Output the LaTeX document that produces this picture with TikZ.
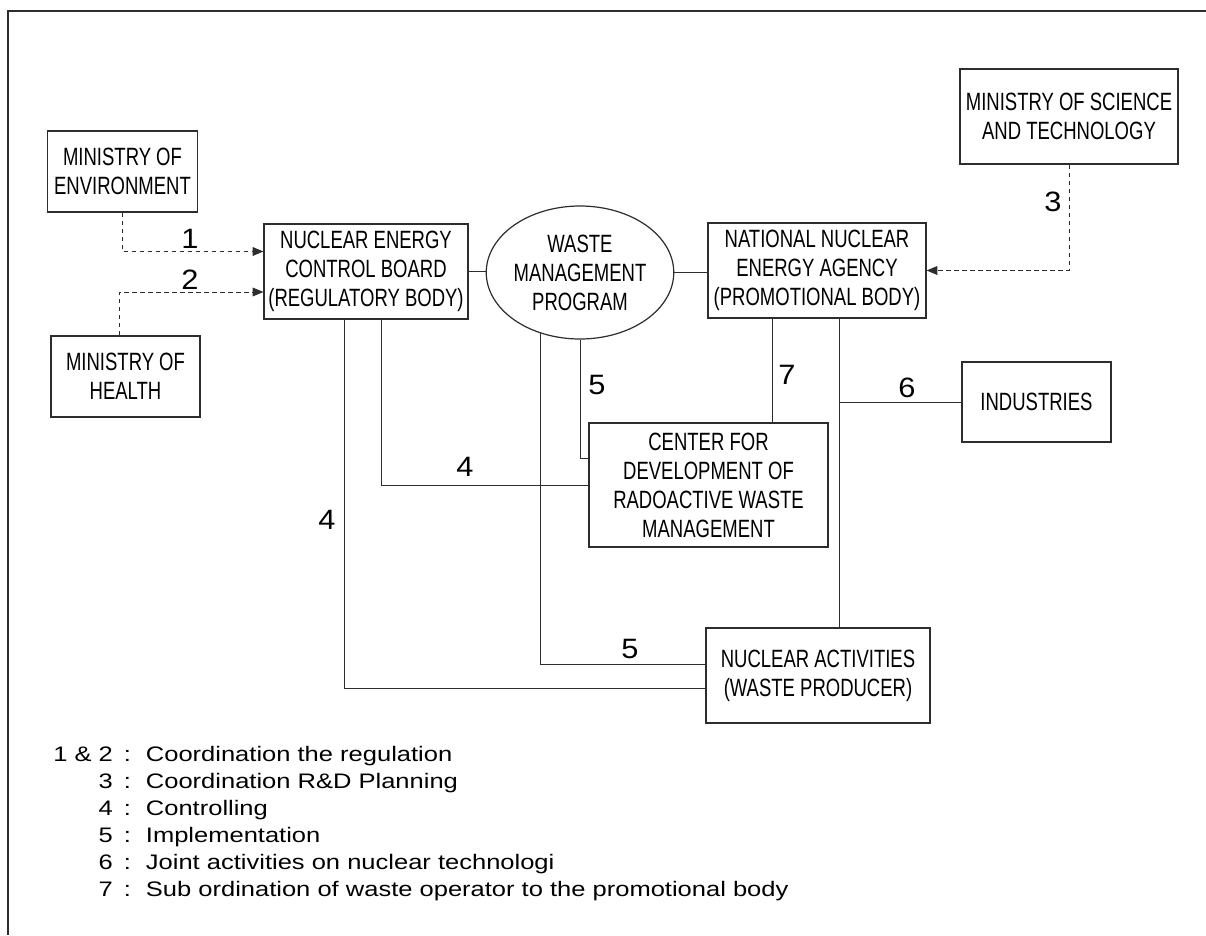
\documentclass[tikz,border=0pt]{standalone}
\usepackage{fontspec}
\setmainfont{Liberation Sans}
\newfontfamily\boxfont[FakeStretch=0.74]{Liberation Sans}
\newfontfamily\legfont[FakeStretch=1.215]{Liberation Sans}
\newfontfamily\labfont[FakeStretch=1.1]{Liberation Sans}
\usetikzlibrary{arrows.meta,calc,shapes.geometric}
\definecolor{linegray}{RGB}{45,45,45}
\begin{document}
\begin{tikzpicture}[x=0.75pt,y=-0.75pt,
  box/.style={draw=linegray, line width=0.9pt, rectangle, inner sep=0pt, align=center, text=black,
    font={\boxfont\fontsize{18.75}{21.75}\selectfont}},
  oval/.style={box, ellipse},
  conn/.style={draw=linegray, line width=0.75pt},
  dasharrow/.style={conn, dash pattern=on 3.5pt off 2.5pt, -{Triangle[length=8pt,width=6.5pt]}},
  lab/.style={inner sep=0pt, text=black, font={\labfont\fontsize{21}{25}\selectfont}},
  legendtext/.style={inner sep=0pt, text=black, align=left, font={\legfont\fontsize{15.75}{20.25}\selectfont}}
]
\useasboundingbox (0,0) rectangle (1206,935);
\fill[white] (0,0) rectangle (1206,935);
% frame
\draw[draw=linegray, line width=1.1pt] (1206,11) -- (8,11) -- (8,935);

% nodes
\node[box, minimum width=112.5pt, minimum height=60.75pt] (moe) at (122.5,171.5) {MINISTRY OF\\ENVIRONMENT};
\node[box, minimum width=111.75pt, minimum height=60.75pt] (moh) at (125.5,376.5) {MINISTRY OF\\HEALTH};
\node[box, minimum width=153pt, minimum height=71.25pt] (necb) at (366,271.5) {NUCLEAR ENERGY\\CONTROL BOARD\\(REGULATORY BODY)};
\node[oval, minimum width=114pt, minimum height=99.75pt] (wmp) at (580,272.5) {WASTE\\MANAGEMENT\\PROGRAM};
\node[box, minimum width=163.5pt, minimum height=71.25pt] (nnea) at (817,270.5) {NATIONAL NUCLEAR\\ENERGY AGENCY\\(PROMOTIONAL BODY)};
\node[box, minimum width=163.5pt, minimum height=71.25pt] (most) at (1069,116.5) {MINISTRY OF SCIENCE\\AND TECHNOLOGY};
\node[box, minimum width=111.75pt, minimum height=60pt] (ind) at (1036.5,402) {INDUSTRIES};
\node[box, minimum width=179.25pt, minimum height=93pt] (cdr) at (708.5,485) {CENTER FOR\\DEVELOPMENT OF\\RADOACTIVE WASTE\\MANAGEMENT};
\node[box, minimum width=168pt, minimum height=71.25pt] (na) at (818,675.5) {NUCLEAR ACTIVITIES\\(WASTE PRODUCER)};

% dashed coordination arrows
\draw[dasharrow] (moe.south) |- ($(necb.west)+(0,-20)$);
\draw[dasharrow] ($(moh.north)+(-6,0)$) |- ($(necb.west)+(0,20.5)$);
\draw[dasharrow] (most.south) |- (nnea.east);

% solid connectors
\draw[conn] (necb.east) -- (necb.east -| wmp.west);
\draw[conn] (wmp.east) -- (wmp.east -| nnea.west);
\coordinate (c4a) at ($(necb.south)+(15,0)$);
\coordinate (c4b) at ($(necb.south)+(-22,0)$);
\coordinate (c7) at ($(nnea.south)+(-45,0)$);
\coordinate (c6) at ($(nnea.south)+(22,0)$);
\draw[conn] (wmp.south) |- ($(cdr.west)+(0,-27)$);
\draw[conn] (c4a) |- (cdr.west);
\draw[conn] (c4b) |- ($(na.west)+(0,12.5)$);
\draw[conn] (wmp.237.7) |- ($(na.west)+(0,-11.5)$);
\draw[conn] (c7) -- (c7 |- cdr.north);
\draw[conn] (c6) -- (c6 |- na.north);
\draw[conn] (c6 |- ind.west) -- (ind.west);

% labels
\node[lab] (l1) at (190,239) {1};
\node[lab] (l2) at (190,280) {2};
\node[lab] (l3) at (1053,202) {3};
\node[lab] (l4a) at (465,467) {4};
\node[lab] (l4b) at (327,520) {4};
\node[lab] (l5a) at (597,385) {5};
\node[lab] (l5b) at (630,649) {5};
\node[lab] (l6) at (907,388) {6};
\node[lab] (l7) at (787,375) {7};

% legend
\node[legendtext, anchor=base west] (legend) at (53,761) {%
\begin{tabular}[t]{@{}r@{\hspace{8.25pt}:\hspace{11.25pt}}l@{}}
1 \& 2 & Coordination the regulation\\
3 & Coordination R\&D Planning\\
4 & Controlling\\
5 & Implementation\\
6 & Joint activities on nuclear technologi\\
7 & Sub ordination of waste operator to the promotional body
\end{tabular}};
\end{tikzpicture}
\end{document}
